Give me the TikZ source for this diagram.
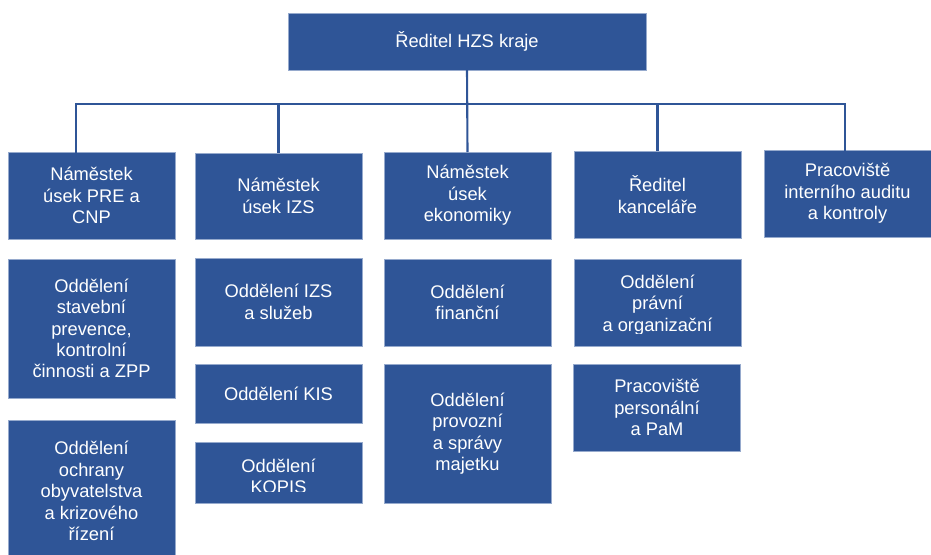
\documentclass[tikz,border=0pt]{standalone}
\usepackage{fontspec}
\setmainfont{Liberation Sans}
\definecolor{hzsblue}{RGB}{47,85,151}
\definecolor{hzsedge}{RGB}{150,170,205}
\newcommand{\hzsfont}{\fontsize{18.3}{21.4}\selectfont}
\tikzset{
  box/.style={fill=hzsblue, draw=hzsedge, line width=0.6pt, text=white, font=\hzsfont,
    align=center, inner sep=0pt, outer sep=0pt, minimum width=167pt},
  txt/.style={text=white, font=\hzsfont, align=center, inner sep=0pt},
  conn/.style={draw=hzsblue, line width=2.1pt}
}
\begin{document}
\begin{tikzpicture}[x=1pt,y=-1pt]
\path[use as bounding box] (0,0) rectangle (931,554);
\clip (0,0) rectangle (931,554);
% top
\node[box, minimum width=358pt, minimum height=57pt] (top) at (467,41.5) {Ředitel HZS kraje};
% row 1
\node[box, minimum height=87pt] (r1a) at (91.5,195.5) {Náměstek\\úsek PRE a\\CNP};
\node[box, minimum height=86pt] (r1b) at (278.5,196) {Náměstek\\úsek IZS};
\node[box, minimum height=87pt] (r1c) at (467.5,195.5) {Náměstek\\úsek\\ekonomiky};
\node[box, minimum height=87pt] (r1d) at (657.5,194.5) {Ředitel\\kanceláře};
\node[box, minimum height=87pt] (r1e) at (847.5,193.5) {Pracoviště\\interního auditu\\a kontroly};
% column 1
\node[box, minimum height=139pt] (a1) at (91.5,328.5) {Oddělení\\stavební\\prevence,\\kontrolní\\činnosti a ZPP};
\node[box, minimum height=142pt] (a2) at (91.5,491) {Oddělení\\ochrany\\obyvatelstva\\a krizového\\řízení};
% column 2
\node[box, minimum height=88pt] (b1) at (278.5,302) {Oddělení IZS\\a služeb};
\node[box, minimum height=59pt] (b2) at (278.5,393.5) {Oddělení KIS};
\node[box, minimum height=61pt] (b3) at (278.5,472.5) {};
\begin{scope}
\clip (b3.north west) rectangle (362,491);
\node[txt] (b3t) at (278.5,476.5) {Oddělení\\KOPIS};
\end{scope}
% column 3
\node[box, minimum height=87pt] (c1) at (467.5,302.5) {Oddělení\\finanční};
\node[box, minimum height=139pt] (c2) at (467.5,433.5) {Oddělení\\provozní\\a správy\\majetku};
% column 4
\node[box, minimum height=87pt] (d1) at (657.5,302.5) {};
\begin{scope}
\clip (d1.north west) rectangle (741,333);
\node[txt] (d1t) at (657.5,305) {Oddělení\\právní\\a organizační};
\end{scope}
\node[box, minimum height=87pt] (d2) at (657,407.5) {Pracoviště\\personální\\a PaM};
% connectors
\coordinate (busL) at (76,104);
\coordinate (busR) at (845,104);
\draw[conn] (top.south) -- (r1c.north);
\draw[conn, line cap=rect] (r1a.north -| busL) -- (busL) -- (busR) -- (r1e.north -| busR);
\draw[conn] (r1b.north) -- (r1b.north |- busL);
\draw[conn] (r1d.north) -- (r1d.north |- busL);
\end{tikzpicture}
\end{document}
